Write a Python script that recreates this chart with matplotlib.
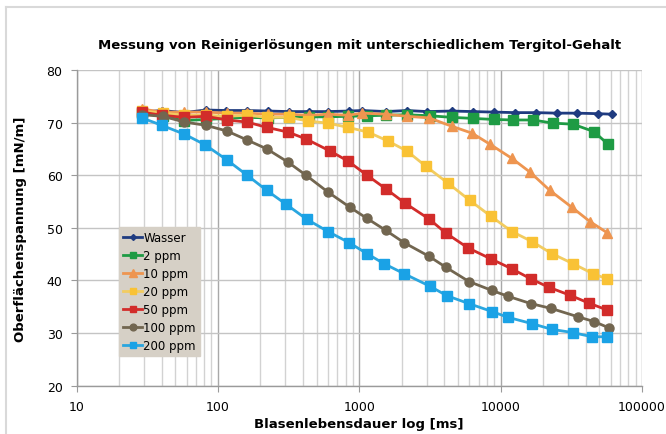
import matplotlib
matplotlib.use("Agg")
import matplotlib.pyplot as plt
from matplotlib.ticker import FixedLocator, LogLocator, NullFormatter
from matplotlib.lines import Line2D

# Blasenlebensdauer [ms] and Oberflaechenspannung [mN/m]
wasser_ms = [29, 40, 58, 82, 114, 161, 226, 318, 441, 601, 846, 1045, 1545, 2175, 3012, 4524,
             6368, 8966, 12620, 17760, 25010, 34640, 48770, 61250]
wasser = [72.0, 72.3, 71.9, 72.4, 72.3, 72.3, 72.2, 72.1, 72.1, 72.1, 72.2, 72.3, 72.1, 72.3,
          72.1, 72.2, 72.1, 72.0, 71.9, 71.9, 71.8, 71.8, 71.7, 71.6]

ppm2_ms = [29, 41, 58, 82, 116, 161, 226, 318, 441, 601, 832, 1134, 1545, 2175, 3162, 4524,
           6368, 8966, 12220, 16920, 23440, 32450, 45680, 57390]
ppm2 = [71.8, 71.2, 70.4, 70.6, 70.8, 71.0, 70.9, 71.0, 71.1, 71.1, 71.2, 71.3, 71.4, 71.5,
        71.3, 71.0, 70.8, 70.6, 70.5, 70.5, 69.9, 69.7, 68.3, 65.9]

ppm10_ms = [29, 40, 58, 82, 116, 161, 226, 318, 441, 601, 832, 1045, 1545, 2175, 3112, 4524,
            6266, 8404, 12020, 16120, 22320, 31930, 42810, 56470]
ppm10 = [72.6, 72.0, 72.0, 72.0, 71.8, 71.8, 71.6, 71.6, 71.4, 71.6, 71.4, 71.8, 71.6, 71.2,
         70.9, 69.3, 68.0, 65.9, 63.2, 60.6, 57.1, 53.9, 51.2, 49.1]

ppm20_ms = [29, 41, 58, 82, 116, 161, 222, 318, 434, 601, 832, 1152, 1596, 2175, 2963, 4240,
            6065, 8540, 12020, 16650, 23060, 32450, 44940, 56470]
ppm20 = [72.2, 71.8, 71.4, 71.4, 71.2, 71.4, 71.0, 71.0, 70.3, 69.9, 69.1, 68.2, 66.5, 64.6,
         61.7, 58.5, 55.2, 52.2, 49.3, 47.4, 45.1, 43.2, 41.3, 40.3]

ppm50_ms = [29, 40, 58, 82, 116, 161, 222, 313, 420, 621, 832, 1134, 1545, 2105, 3112, 4105,
            5870, 8540, 12020, 16380, 21960, 30920, 42120, 56470]
ppm50 = [72.0, 71.4, 71.0, 71.2, 70.5, 70.1, 69.1, 68.2, 66.9, 64.6, 62.7, 60.0, 57.4, 54.7,
         51.7, 49.0, 46.2, 44.1, 42.2, 40.3, 38.7, 37.2, 35.7, 34.4]

ppm100_ms = [29, 41, 58, 82, 116, 161, 222, 313, 420, 601, 860, 1134, 1545, 2071, 3112, 4105,
             5968, 8680, 11260, 16380, 22690, 35210, 45680, 58340]
ppm100 = [71.5, 71.2, 70.1, 69.5, 68.4, 66.7, 65.0, 62.5, 60.0, 56.8, 53.9, 51.8, 49.5, 47.2,
          44.6, 42.5, 39.8, 38.1, 37.0, 35.6, 34.7, 33.1, 32.2, 31.0]

ppm200_ms = [29, 40, 58, 81, 116, 161, 222, 303, 427, 601, 846, 1134, 1495, 2071, 3162, 4171,
             5968, 8680, 11260, 16650, 23060, 32450, 44230, 56470]
ppm200 = [70.9, 69.5, 67.8, 65.8, 62.9, 60.0, 57.1, 54.5, 51.6, 49.3, 47.2, 45.1, 43.2, 41.3,
          38.9, 37.1, 35.6, 34.1, 33.0, 31.8, 30.7, 30.1, 29.3, 29.3]

labels = ["Wasser", "2 ppm", "10 ppm", "20 ppm", "50 ppm", "100 ppm", "200 ppm"]
xticks = [10, 100, 1000, 10000, 100000]

series = [
    (wasser_ms, wasser, "#1F3B80", "#1F3B80", "D", 4.0),
    (ppm2_ms, ppm2, "#1E9B44", "#1E9B44", "s", 6.5),
    (ppm10_ms, ppm10, "#EE9550", "#EE9550", "^", 7.0),
    (ppm20_ms, ppm20, "#F2CC60", "#F9C235", "s", 6.5),
    (ppm50_ms, ppm50, "#D22C2A", "#D22C2A", "s", 6.5),
    (ppm100_ms, ppm100, "#726650", "#726650", "o", 6.5),
    (ppm200_ms, ppm200, "#2AA6DF", "#1AA2E6", "s", 6.5),
]

fig = plt.figure(figsize=(6.66, 4.35), dpi=100)
ax = fig.add_axes([76.5 / 666, 1 - 386.7 / 435, (642 - 76.5) / 666, (386.7 - 71) / 435])

# light frame round the chart area
fig.add_artist(Line2D([6 / 666, 6 / 666], [0, 1 - 8 / 435], color="#D9D9D9", lw=1.5))
fig.add_artist(Line2D([6 / 666, 1], [1 - 8 / 435, 1 - 8 / 435], color="#D9D9D9", lw=1.5))

handles = []
for (xs, ys, lc, mc, mk, ms), lab in zip(series, labels):
    h, = ax.plot(xs, ys, color=lc, lw=2.0, marker=mk, markersize=ms,
                 markerfacecolor=mc, markeredgecolor=mc, label=lab, zorder=3)
    handles.append(h)

ax.set_xscale("log")
ax.set_xlim(10, 100000)
ax.set_ylim(20, 80)
ax.xaxis.set_major_locator(FixedLocator(xticks))
ax.set_xticklabels([str(t) for t in xticks])
ax.xaxis.set_minor_locator(LogLocator(base=10, subs=range(2, 10)))
ax.xaxis.set_minor_formatter(NullFormatter())
ax.set_yticks([20, 30, 40, 50, 60, 70, 80])

ax.grid(True, which="major", axis="x", color="#A8A8A8", lw=1.0)
ax.grid(True, which="minor", axis="x", color="#D2D2D2", lw=1.0)
ax.grid(True, which="major", axis="y", color="#C4C4C4", lw=1.0)
ax.set_axisbelow(True)

for s in ["top", "right"]:
    ax.spines[s].set_visible(False)
for s in ["left", "bottom"]:
    ax.spines[s].set_color("#9A9A9A")
    ax.spines[s].set_linewidth(1.0)
ax.tick_params(axis="both", which="major", length=4, color="#9A9A9A", labelsize=9, pad=6)
ax.tick_params(axis="x", which="minor", length=0)
ax.tick_params(axis="x", which="major", pad=6)

ax.set_title("Messung von Reinigerlösungen mit unterschiedlichem Tergitol-Gehalt",
             fontsize=9.5, fontweight="bold", pad=16)
ax.set_ylabel("Oberflächenspannung [mN/m]", fontsize=9.5, fontweight="bold", labelpad=14)
ax.set_xlabel("Blasenlebensdauer log [ms]", fontsize=9.5, fontweight="bold", labelpad=3)

leg = ax.legend(handles=handles, loc="upper left",
                bbox_to_anchor=(119 / 666, 1 - 228 / 435), bbox_transform=fig.transFigure,
                borderaxespad=0, fontsize=8.5, frameon=True, fancybox=False,
                facecolor="#D6D0C6", edgecolor="#D6D0C6", framealpha=1,
                handlelength=1.6, handletextpad=0.1, labelspacing=0.42, borderpad=0.35,
                markerscale=0.75)
leg.set_zorder(5)

fig.savefig("out.png", dpi=100)
